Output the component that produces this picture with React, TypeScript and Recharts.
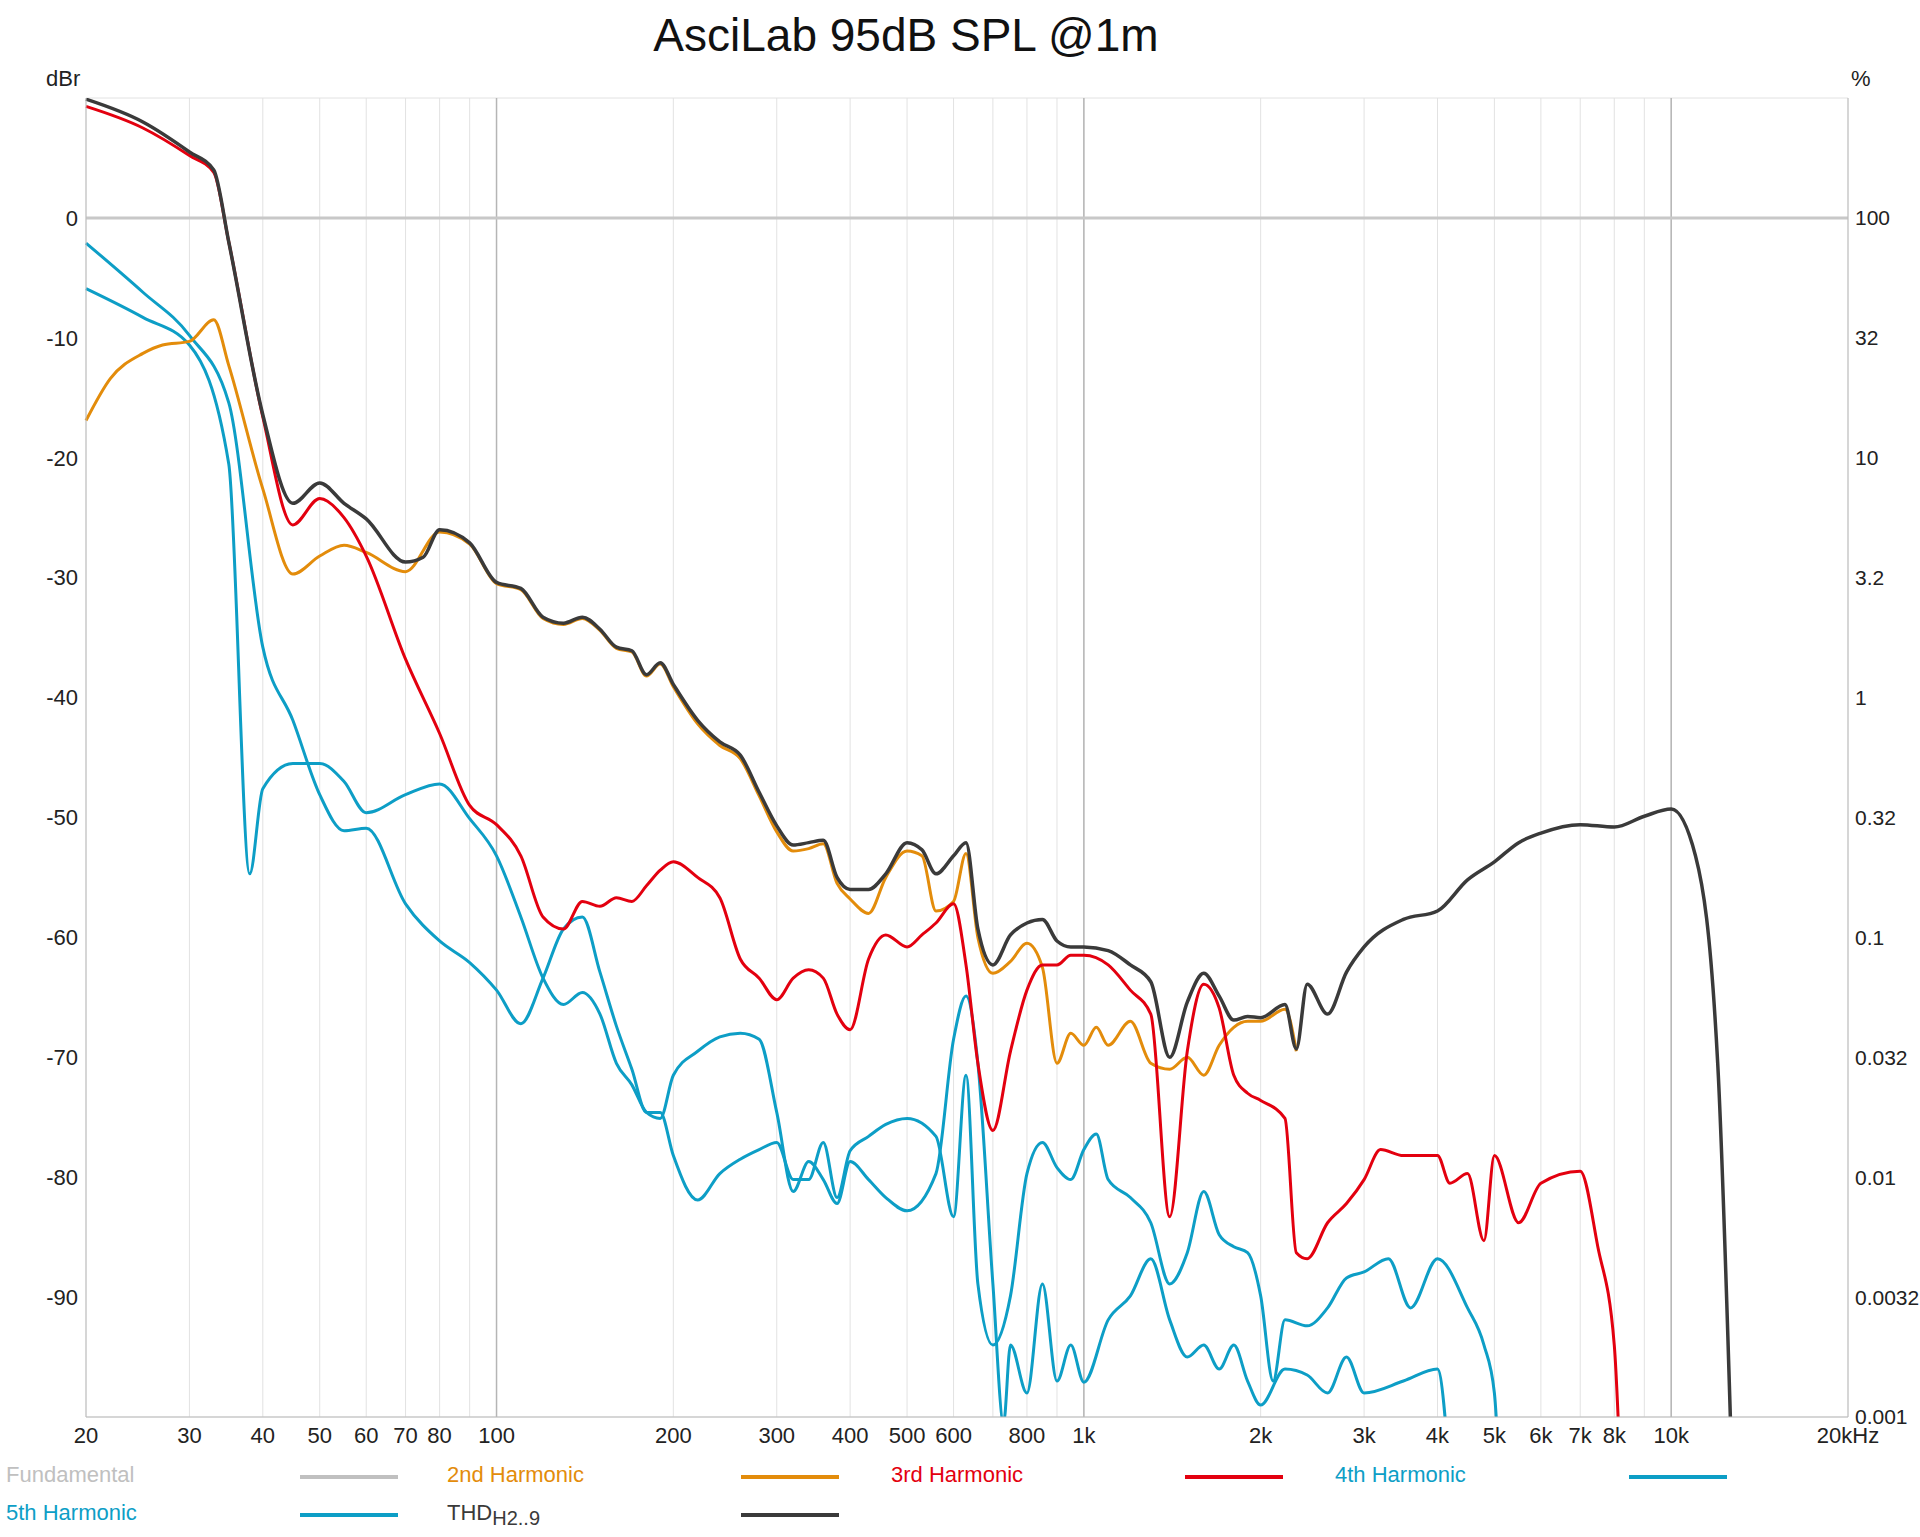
import { LineChart, Line, XAxis, YAxis, CartesianGrid, ReferenceLine } from "recharts";

const FREQ_THD = [20, 25, 30, 33, 35, 40, 45, 50, 55, 60, 70, 75, 80, 90, 100, 110, 120, 130, 140, 150, 160, 170, 180, 190, 200, 220, 240, 260, 280, 300, 320, 340, 360, 380, 400, 430, 460, 500, 530, 560, 600, 630, 660, 700, 750, 800, 850, 900, 950, 1000, 1100, 1200, 1300, 1400, 1500, 1600, 1700, 1800, 1900, 2000, 2200, 2300, 2400, 2600, 2800, 3000, 3500, 4000, 4500, 5000, 5500, 6000, 7000, 8000, 9000, 10000, 11000, 12000, 12700];
const DB_THD = [9.9, 8.0, 5.5, 4, -2, -16.4, -23.8, -22.1, -23.8, -25.1, -28.7, -28.3, -26, -27.1, -30.4, -30.9, -33.3, -33.8, -33.3, -34.3, -35.8, -36.1, -38.1, -37.1, -38.9, -41.9, -43.7, -44.8, -47.9, -50.7, -52.3, -52.1, -51.9, -55, -56, -56, -54.7, -52.1, -52.7, -54.7, -53.2, -52.1, -59.3, -62.3, -59.8, -58.8, -58.5, -60.3, -60.8, -60.8, -61.1, -62.3, -63.7, -70, -65.4, -63, -64.9, -66.9, -66.6, -66.7, -65.6, -69.3, -63.9, -66.4, -62.9, -60.8, -58.5, -57.8, -55.2, -53.7, -52.1, -51.3, -50.6, -50.8, -49.9, -49.3, -53.2, -70.5, -105];

const FREQ_H2 = [20, 22, 25, 27, 30, 33, 35, 40, 45, 50, 55, 60, 70, 80, 90, 100, 110, 120, 130, 140, 150, 160, 170, 180, 190, 200, 220, 240, 260, 280, 300, 320, 340, 360, 380, 400, 430, 460, 500, 530, 560, 600, 630, 660, 700, 750, 800, 850, 900, 950, 1000, 1050, 1100, 1200, 1300, 1400, 1500, 1600, 1700, 1800, 1900, 2000, 2200, 2300];
const DB_H2 = [-16.9, -13.4, -11.3, -10.6, -10.3, -8.5, -12.3, -22.6, -29.7, -28.2, -27.3, -27.9, -29.5, -26.2, -27.2, -30.5, -31, -33.4, -33.9, -33.4, -34.4, -35.9, -36.2, -38.2, -37.2, -39.1, -42.2, -44, -45.1, -48.2, -51.2, -52.8, -52.6, -52.2, -55.5, -56.8, -58, -55, -52.8, -53.2, -57.8, -57, -53, -60, -63, -62, -60.5, -62.5, -70.5, -68, -69, -67.5, -69, -67, -70.5, -71, -70, -71.5, -69, -67.5, -67, -67, -66, -69.5];

const FREQ_H3 = [20, 25, 30, 33, 35, 40, 45, 50, 55, 60, 70, 80, 90, 100, 110, 120, 130, 140, 150, 160, 170, 180, 190, 200, 220, 240, 260, 280, 300, 320, 340, 360, 380, 400, 430, 460, 500, 530, 560, 600, 630, 660, 700, 750, 800, 850, 900, 950, 1000, 1100, 1200, 1300, 1400, 1500, 1600, 1700, 1800, 1900, 2000, 2200, 2300, 2400, 2600, 2800, 3000, 3200, 3500, 4000, 4200, 4500, 4800, 5000, 5500, 6000, 7000, 7500, 8000, 8200];
const DB_H3 = [9.3, 7.5, 5.2, 3.8, -2, -16.6, -25.6, -23.4, -25, -28.2, -36.8, -43, -49, -50.6, -53.2, -58.3, -59.3, -57, -57.4, -56.7, -57, -55.7, -54.4, -53.7, -55, -56.7, -61.8, -63.4, -65.2, -63.4, -62.7, -63.4, -66.4, -67.7, -61.8, -59.8, -60.8, -59.8, -58.8, -57.2, -62.3, -70.5, -76.1, -69.5, -64.4, -62.3, -62.3, -61.5, -61.5, -62.3, -64.4, -66.4, -83.3, -69.5, -63.9, -65.9, -71.5, -73, -73.6, -75.1, -86.3, -86.8, -83.8, -82.2, -80.2, -77.7, -78.2, -78.2, -80.5, -79.7, -85.3, -78.2, -83.8, -80.5, -79.5, -85.8, -94, -105];

const FREQ_H4 = [20, 25, 30, 35, 40, 45, 50, 55, 60, 70, 80, 90, 100, 110, 120, 130, 140, 150, 160, 170, 180, 190, 200, 220, 240, 260, 280, 300, 320, 340, 360, 380, 400, 430, 460, 500, 560, 600, 630, 660, 700, 750, 800, 850, 900, 950, 1000, 1050, 1100, 1200, 1300, 1400, 1500, 1600, 1700, 1800, 1900, 2000, 2100, 2200, 2400, 2600, 2800, 3000, 3300, 3600, 4000, 4500, 4800, 5000, 5100];
const DB_H4 = [-2.1, -6.2, -9.8, -15.4, -35.8, -41.9, -48.1, -51.1, -50.9, -57.2, -60.3, -62.1, -64.4, -67.2, -63.4, -59.3, -58.3, -62.9, -67.4, -71, -74.6, -74.6, -78.2, -81.9, -79.7, -78.5, -77.7, -77.1, -80.2, -80.2, -77.1, -81.7, -77.8, -76.6, -75.6, -75.1, -76.6, -83.3, -71.5, -88.9, -94, -89.9, -79.7, -77.1, -79.2, -80.2, -77.7, -76.4, -80.2, -81.7, -83.8, -88.9, -86.3, -81.2, -84.8, -85.8, -86.3, -89.9, -97, -91.9, -92.4, -90.9, -88.4, -87.9, -86.8, -90.9, -86.8, -90.9, -94, -98, -105];

const FREQ_H5 = [20, 25, 30, 35, 38, 40, 45, 50, 55, 60, 70, 80, 90, 100, 110, 120, 130, 140, 150, 160, 170, 180, 190, 200, 220, 240, 260, 280, 300, 320, 340, 360, 380, 400, 430, 460, 500, 560, 600, 630, 660, 700, 730, 750, 800, 850, 900, 950, 1000, 1100, 1200, 1300, 1400, 1500, 1600, 1700, 1800, 1900, 2000, 2200, 2400, 2600, 2800, 3000, 3500, 4000, 4200];
const DB_H5 = [-5.9, -8.3, -10.6, -20.5, -54.7, -47.6, -45.5, -45.5, -47, -49.6, -48.1, -47.2, -50.1, -53.2, -58.3, -63.4, -65.6, -64.6, -66.4, -70.5, -72.3, -74.6, -75.1, -71.5, -69.5, -68.3, -68, -68.5, -74.6, -81.2, -78.7, -80.2, -82.2, -78.7, -80.2, -81.7, -82.8, -79.7, -68.5, -64.9, -70.5, -88.9, -100.5, -94, -98, -88.9, -97, -94, -97.1, -91.9, -89.9, -86.8, -91.9, -95, -94, -96, -94, -97, -99, -96, -96.5, -98, -95, -98, -97, -96, -105];

const FREQ_FUND = [20, 20000];
const DB_FUND = [0, 0];

const GRID_FREQS = [20, 30, 40, 50, 60, 70, 80, 90, 100, 200, 300, 400, 500, 600, 700, 800, 900, 1000, 2000, 3000, 4000, 5000, 6000, 7000, 8000, 9000, 10000, 20000];
const X_LABELS: Record<number, string> = {
  20: "20", 30: "30", 40: "40", 50: "50", 60: "60", 70: "70", 80: "80", 100: "100", 200: "200", 300: "300",
  400: "400", 500: "500", 600: "600", 800: "800", 1000: "1k", 2000: "2k", 3000: "3k", 4000: "4k", 5000: "5k",
  6000: "6k", 7000: "7k", 8000: "8k", 10000: "10k", 20000: "20kHz",
};
const DB_TICKS = [0, -10, -20, -30, -40, -50, -60, -70, -80, -90, -100];
const DB_LABELS = ["0", "-10", "-20", "-30", "-40", "-50", "-60", "-70", "-80", "-90", ""];
const PCT_LABELS = ["100", "32", "10", "3.2", "1", "0.32", "0.1", "0.032", "0.01", "0.0032", "0.001"];

const zip = (f: number[], v: number[]) => f.map((x, i) => ({ f: x, v: v[i] }));

const ORANGE = "#e38c0b";
const RED = "#e3000f";
const BLUE = "#0d9ec6";
const DARK = "#3a3a3a";
const FONT = "'Liberation Sans', Arial, sans-serif";

const series = [
  { key: "fund", data: zip(FREQ_FUND, DB_FUND), color: "#c8c8c8", w: 3 },
  { key: "h5", data: zip(FREQ_H5, DB_H5), color: BLUE, w: 3 },
  { key: "h4", data: zip(FREQ_H4, DB_H4), color: BLUE, w: 3 },
  { key: "h2", data: zip(FREQ_H2, DB_H2), color: ORANGE, w: 3 },
  { key: "h3", data: zip(FREQ_H3, DB_H3), color: RED, w: 3 },
  { key: "thd", data: zip(FREQ_THD, DB_THD), color: DARK, w: 3.5 },
];

const legend = [
  { label: "Fundamental", color: "#c0c0c0", x: 6, y: 1462 },
  { label: "2nd Harmonic", color: ORANGE, x: 447, y: 1462 },
  { label: "3rd Harmonic", color: RED, x: 891, y: 1462 },
  { label: "4th Harmonic", color: BLUE, x: 1335, y: 1462 },
  { label: "5th Harmonic", color: BLUE, x: 6, y: 1500 },
  { label: "THD", sub: "H2..9", color: DARK, x: 447, y: 1500 },
];

export default function App() {
  return (
    <div style={{ position: "absolute", left: 0, top: 0, width: 1920, height: 1537, background: "#fff", fontFamily: FONT }}>
      <div style={{ position: "absolute", top: 8, left: 0, width: 1812, textAlign: "center", fontSize: 46, color: "#111" }}>
        AsciLab 95dB SPL @1m
      </div>
      <div style={{ position: "absolute", left: 46, top: 66, fontSize: 22, color: "#222" }}>dBr</div>
      <div style={{ position: "absolute", left: 1851, top: 66, fontSize: 22, color: "#222" }}>%</div>
      <div style={{ position: "absolute", left: 0, top: 0 }}>
        <LineChart width={1920} height={1460} margin={{ top: 98, left: 6, right: 2, bottom: 3 }}>
          <CartesianGrid stroke="#e2e2e2" />
          <XAxis
            dataKey="f"
            type="number"
            scale="log"
            domain={[20, 20000]}
            ticks={GRID_FREQS}
            interval={0}
            allowDuplicatedCategory={false}
            tickFormatter={(v: number) => X_LABELS[v] ?? ""}
            tick={{ fontSize: 22, fill: "#222", fontFamily: FONT }}
            tickLine={false}
            axisLine={{ stroke: "#bbb" }}
            height={40}
            tickMargin={4}
          />
          <YAxis
            yAxisId="l"
            type="number"
            domain={[-100, 10]}
            ticks={DB_TICKS}
            allowDataOverflow
            tickFormatter={(v: number) => DB_LABELS[DB_TICKS.indexOf(v)] ?? ""}
            tick={{ fontSize: 22, fill: "#222", fontFamily: FONT }}
            tickLine={false}
            axisLine={{ stroke: "#bbb" }}
            width={80}
            tickMargin={2}
          />
          <YAxis
            yAxisId="r"
            orientation="right"
            type="number"
            domain={[-100, 10]}
            ticks={DB_TICKS}
            allowDataOverflow
            tickFormatter={(v: number) => PCT_LABELS[DB_TICKS.indexOf(v)] ?? ""}
            tick={{ fontSize: 21, fill: "#222", fontFamily: FONT, textAnchor: "start" }}
            tickLine={false}
            axisLine={{ stroke: "#bbb" }}
            width={70}
            tickMargin={1}
          />
          {[100, 1000, 10000].map((f) => (
            <ReferenceLine key={f} x={f} yAxisId="l" stroke="#b5b5b5" strokeWidth={1.5} />
          ))}
          {series.map((s) => (
            <Line
              key={s.key}
              yAxisId="l"
              data={s.data}
              dataKey="v"
              type="monotone"
              stroke={s.color}
              strokeWidth={s.w}
              dot={false}
              isAnimationActive={false}
            />
          ))}
        </LineChart>
      </div>
      {legend.map((l) => (
        <div key={l.label} style={{ position: "absolute", left: l.x, top: l.y, fontSize: 22, color: l.color, whiteSpace: "nowrap" }}>
          {l.label}
          {l.sub && <sub style={{ fontSize: 20 }}>{l.sub}</sub>}
          <span style={{ position: "absolute", left: 294, top: 13, width: 98, height: 4, background: l.color }} />
        </div>
      ))}
    </div>
  );
}
